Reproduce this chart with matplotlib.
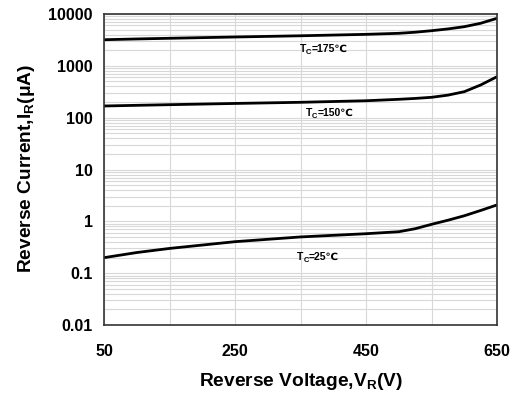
import numpy as np
import matplotlib.pyplot as plt
from matplotlib.ticker import FixedLocator, LogLocator, NullFormatter, FixedFormatter

plt.rcParams['font.family'] = ['Liberation Sans', 'DejaVu Sans']
plt.rcParams['font.weight'] = 'bold'
plt.rcParams['mathtext.default'] = 'regular'

# reverse leakage vs voltage, three case temperatures
v = [50, 100, 150, 250, 350, 450, 500, 525, 550, 575, 600, 625, 650]
ir_175 = [3190, 3300, 3400, 3600, 3800, 4050, 4240, 4450, 4760, 5150, 5690, 6620, 8260]
ir_150 = [168, 173, 178, 188, 198, 212, 226, 235, 247, 272, 317, 427, 617]
ir_25 = [0.199, 0.25, 0.30, 0.405, 0.50, 0.577, 0.63, 0.72, 0.875, 1.05, 1.28, 1.62, 2.07]

x_ticks = [50, 250, 450, 650]
x_grid = [150, 350, 550]
y_ticks = [0.01, 0.1, 1, 10, 100, 1000, 10000]
y_labels = ["0.01", "0.1", "1", "10", "100", "1000", "10000"]

# curve labels: (start voltage, baseline current, temperature)
curve_labels = [(349, 1850, "175"), (358, 108, "150"), (345, 0.183, "25")]

fig = plt.figure(figsize=(5.17, 3.94), dpi=100)
ax = fig.add_axes([104 / 517, 1 - 325 / 394, 393 / 517, 311 / 394])

for ys in (ir_175, ir_150, ir_25):
    ax.plot(v, ys, color="black", lw=2.0, solid_capstyle="butt", solid_joinstyle="round")

ax.set_yscale("log")
ax.set_xlim(50, 650)
ax.set_ylim(0.01, 10000)

ax.xaxis.set_major_locator(FixedLocator(x_ticks))
ax.xaxis.set_minor_locator(FixedLocator(x_grid))
ax.yaxis.set_major_locator(FixedLocator(y_ticks))
ax.yaxis.set_major_formatter(FixedFormatter(y_labels))
ax.yaxis.set_minor_locator(LogLocator(base=10, subs=np.arange(2, 10)))
ax.yaxis.set_minor_formatter(NullFormatter())

ax.grid(True, which="both", color="#d8d8d8", lw=0.8)
ax.set_axisbelow(True)
ax.tick_params(which="both", length=0, labelsize=11.5)
ax.tick_params(axis="x", pad=14)
ax.tick_params(axis="y", pad=8)

for s in ax.spines.values():
    s.set_color("#333333")
    s.set_linewidth(1.2)

ax.set_xlabel("Reverse Voltage,V$_R$(V)", fontsize=13.8, fontweight="bold", labelpad=8)
ax.set_ylabel("Reverse Current,I$_R$(μA)", fontsize=13.8, fontweight="bold")
ax.yaxis.set_label_coords(37 / 517, 1 - 168 / 394, transform=fig.transFigure)

for xv, yv, temp in curve_labels:
    t = ax.text(xv, yv, "T", fontsize=7.5, ha="left", va="baseline")
    sub = ax.annotate("C", xy=(1, 0), xycoords=t, xytext=(0, -1.8),
                      textcoords="offset points", fontsize=5.5, va="bottom")
    ax.annotate("=" + temp + "℃", xy=(1, 0), xycoords=(sub, t),
                fontsize=7.5, va="bottom")

fig.savefig("out.png", dpi=100)
